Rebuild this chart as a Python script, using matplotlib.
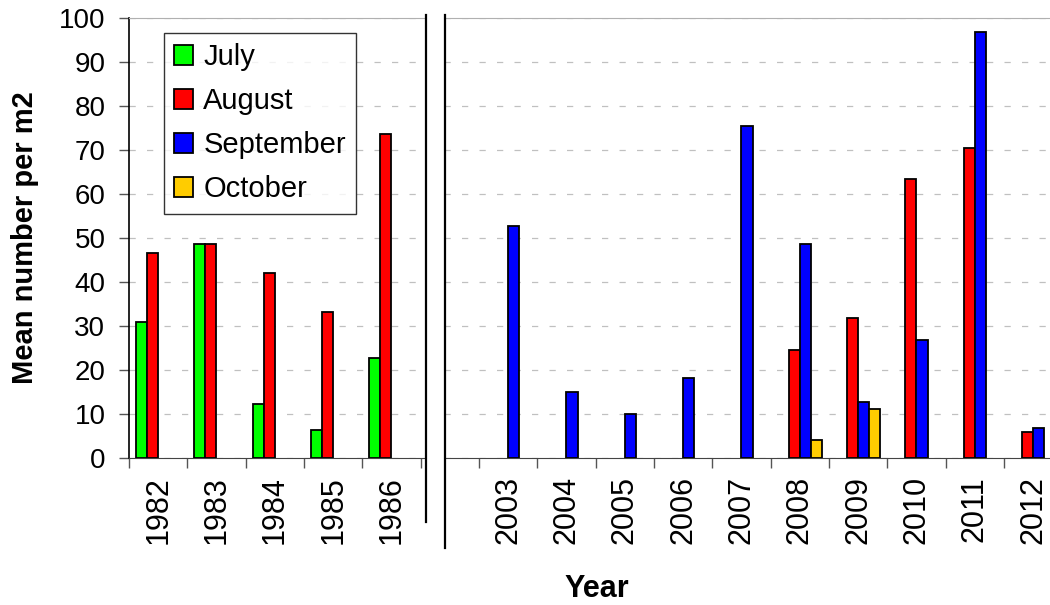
import numpy as np
import matplotlib.pyplot as plt
from matplotlib.patches import Rectangle
from matplotlib.lines import Line2D

plt.rcParams['font.family'] = ['Liberation Sans', 'DejaVu Sans']

years_early = ["1982", "1983", "1984", "1985", "1986"]
years_late = ["2003", "2004", "2005", "2006", "2007",
              "2008", "2009", "2010", "2011", "2012"]

nan = np.nan
july = [31.0, 48.7, 12.3, 6.4, 22.8,
        nan, nan, nan, nan, nan, nan, nan, nan, nan, nan]
august = [46.5, 48.7, 42.0, 33.2, 73.7,
          nan, nan, nan, nan, nan, 24.5, 31.8, 63.3, 70.5, 5.9]
september = [nan, nan, nan, nan, nan,
             52.8, 14.9, 10.1, 18.2, 75.5, 48.7, 12.7, 26.8, 96.8, 6.8]
october = [nan, nan, nan, nan, nan,
           nan, nan, nan, nan, nan, 4.1, 11.2, nan, nan, nan]

series = [("July", july, "#00FF00"),
          ("August", august, "#FF0000"),
          ("September", september, "#0000FF"),
          ("October", october, "#FFCC00")]

# one empty category between the two periods
labels = years_early + years_late
x = np.array(list(range(len(years_early))) +
             [len(years_early) + 1 + i for i in range(len(years_late))])
n_cat = len(years_early) + 1 + len(years_late)

W, H = 1050, 605
fig = plt.figure(figsize=(W / 100, H / 100), dpi=100)
ax = fig.add_axes([129 / W, (H - 458) / H, n_cat * 58.33 / W, 440 / H])

bw = 0.19
for i, (name, vals, col) in enumerate(series):
    ax.bar(x + (i - 1.5) * bw, vals, width=bw, color=col,
           edgecolor="black", linewidth=1.3, label=name, zorder=3)

ax.set_xlim(-0.5, n_cat - 0.5)
ax.set_ylim(0, 100)
ax.set_yticks(np.arange(0, 101, 10))
ax.tick_params(axis="y", length=7, width=1, color="#555555", pad=10,
               labelsize=20)
ax.yaxis.grid(True, linestyle=(0, (5, 9)), color="#c0c0c0", linewidth=0.9)

ax.set_xticks(np.arange(-0.5, n_cat, 1.0))
ax.set_xticklabels([])
ax.tick_params(axis="x", which="major", length=7, width=1, color="#555555")
ax.set_xticks(x, minor=True)
ax.set_xticklabels(labels, minor=True, rotation=90, fontsize=22)
ax.tick_params(axis="x", which="minor", length=0, pad=13)

ax.spines["left"].set_color("black")
ax.spines["left"].set_linewidth(1.2)
ax.spines["bottom"].set_color("#444444")
ax.spines["top"].set_color("#b0b0b0")
ax.spines["right"].set_visible(False)

# axis break between the two periods
fig.add_artist(Rectangle((427 / W, (H - 460) / H), 17 / W, 446 / H,
                         transform=fig.transFigure, facecolor="white",
                         edgecolor="none", zorder=10))
fig.add_artist(Line2D([426 / W, 426 / W], [(H - 15) / H, (H - 522) / H],
                      transform=fig.transFigure, color="black",
                      linewidth=1.6, zorder=11))
fig.add_artist(Line2D([445 / W, 445 / W], [(H - 15) / H, (H - 548) / H],
                      transform=fig.transFigure, color="black",
                      linewidth=1.6, zorder=11))

leg = ax.legend(loc="upper left", bbox_to_anchor=(0.0375, 0.966),
                borderaxespad=0, fontsize=21, frameon=True, fancybox=False,
                edgecolor="black", handlelength=0.65, handleheight=0.65,
                handletextpad=0.35, labelspacing=0.55, borderpad=0.35)
leg.get_frame().set_linewidth(1.0)
leg.set_zorder(20)

fig.text(25 / W, 1 - 238 / H, "Mean number per m2", rotation=90,
         ha="center", va="center", fontsize=21, fontweight="bold")
fig.text(597 / W, 1 - 589 / H, "Year", ha="center", va="center",
         fontsize=22, fontweight="bold")

fig.savefig("out.png", dpi=100)
